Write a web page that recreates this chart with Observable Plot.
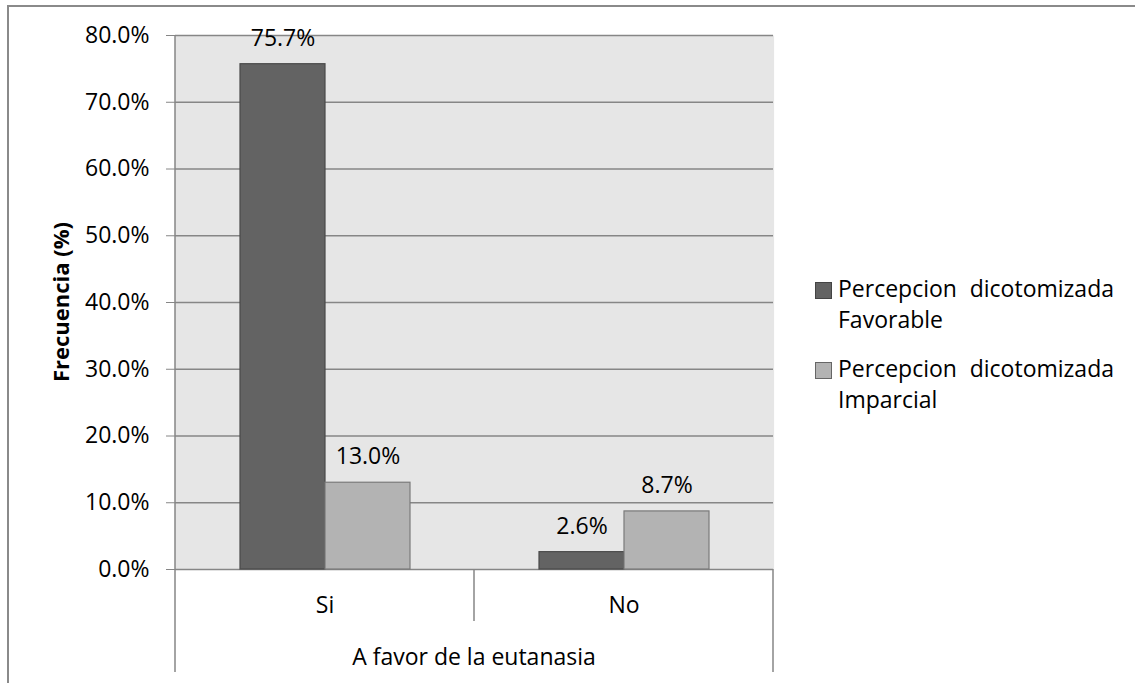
<!DOCTYPE html>
<html><head><meta charset="utf-8">
<script src="https://cdn.jsdelivr.net/npm/d3@7"></script>
<script src="https://cdn.jsdelivr.net/npm/@observablehq/plot@0.6"></script>
<style>
body{margin:0;background:#fff;font-family:"Open Sans",sans-serif;}
#wrap{position:relative;width:1135px;height:683px;overflow:hidden;}
#chart{position:absolute;left:0;top:0;}
#border{position:absolute;left:7px;top:5px;width:1200px;height:800px;border:2px solid #8a8a8a;box-sizing:border-box;pointer-events:none;}
.leg{position:absolute;left:838px;width:276px;font-size:23px;line-height:31px;color:#000;}
.leg .l1{display:flex;justify-content:space-between;}
.sw{position:absolute;left:815px;width:17px;height:17px;box-sizing:border-box;border:1px solid;}
</style></head>
<body><div id="wrap"><div id="chart"></div><div id="border"></div><div id="legend"></div></div>
<script>
const categories = ["Si", "No"];
const seriesNames = ["Percepcion dicotomizada Favorable", "Percepcion dicotomizada Imparcial"];
const favorable = [75.7, 2.6];
const imparcial = [13.0, 8.7];
const yTicks = [0, 10, 20, 30, 40, 50, 60, 70, 80];
const xTitle = "A favor de la eutanasia";
const yTitle = "Frecuencia (%)";
const fills = ["#636363", "#b3b3b3"];
const strokes = ["#4a4a4a", "#7a7a7a"];

const data = categories.flatMap((c, i) => [
  {cat: c, series: seriesNames[0], value: favorable[i]},
  {cat: c, series: seriesNames[1], value: imparcial[i]}
]);
const fmt = v => v.toFixed(1) + "%";

const chart = Plot.plot({
  width: 1135, height: 683,
  marginTop: 35, marginLeft: 174, marginRight: 362, marginBottom: 114,
  style: {fontFamily: "'Open Sans',sans-serif", fontSize: "23px", color: "#000", background: "transparent", overflow: "visible"},
  fx: {domain: categories, padding: 0, axis: null},
  x: {domain: seriesNames, paddingInner: 0, paddingOuter: 0.744, axis: null},
  y: {domain: [0, 80], axis: null},
  marks: [
    Plot.frame({fill: "#e6e6e6", stroke: null, insetLeft: -0.6, insetRight: -0.6}),
    Plot.ruleY(yTicks, {stroke: "#868686", strokeWidth: 1.3}),
    ...seriesNames.map((s, k) => Plot.barY(data.filter(d => d.series === s), {
      fx: "cat", x: "series", y: "value", fill: fills[k], stroke: strokes[k], strokeWidth: 1.2
    })),
    Plot.text(data, {fx: "cat", x: "series", y: "value", text: d => fmt(d.value), dy: -26, fontSize: 23, lineAnchor: "middle", fill: "#000"}),
    Plot.text(categories, {fx: d => d, text: d => d, frameAnchor: "bottom", dy: 36, fontSize: 23, lineAnchor: "middle", fill: "#000"}),
    Plot.axisY({ticks: yTicks, tickFormat: fmt, tickSize: 9, tickPadding: 17, fontSize: 23, stroke: "#868686", fill: "#000", label: null})
  ]
});
document.getElementById("chart").appendChild(chart);

// category dividers, axis line and titles from the scales
const svg = d3.select(chart);
const fx = chart.scale("fx"), y = chart.scale("y");
const y0 = y.apply(0), yTop = y.apply(80);
const left = fx.apply(categories[0]);
const right = fx.apply(categories[categories.length - 1]) + fx.bandwidth;
const g = svg.append("g").attr("stroke", "#868686").attr("stroke-width", 1.5);
g.append("line").attr("x1", left).attr("x2", left).attr("y1", yTop).attr("y2", y0 + 103);
g.append("line").attr("x1", right).attr("x2", right).attr("y1", y0).attr("y2", y0 + 103);
categories.slice(1).forEach(c => {
  const xx = fx.apply(c);
  g.append("line").attr("x1", xx).attr("x2", xx).attr("y1", y0).attr("y2", y0 + 52);
});
svg.append("text").attr("x", (left + right) / 2).attr("y", y0 + 88).attr("dy", "0.35em")
  .attr("text-anchor", "middle").attr("font-size", 23).attr("fill", "#000").text(xTitle);
svg.append("text").attr("transform", `translate(61,${(y0 + yTop) / 2}) rotate(-90)`).attr("dy", "0.35em")
  .attr("text-anchor", "middle").attr("font-size", 22).attr("font-weight", "bold").attr("fill", "#000").text(yTitle);

// legend
const legend = document.getElementById("legend");
const tops = [273, 353];
seriesNames.forEach((s, k) => {
  const words = s.split(" ");
  const sw = document.createElement("div");
  sw.className = "sw";
  sw.style.top = (tops[k] + 9) + "px";
  sw.style.background = fills[k];
  sw.style.borderColor = k === 0 ? "#444" : "#666";
  legend.appendChild(sw);
  const item = document.createElement("div");
  item.className = "leg";
  item.style.top = tops[k] + "px";
  item.innerHTML = `<div class="l1"><span>${words[0]}</span><span>${words[1]}</span></div><div>${words.slice(2).join(" ")}</div>`;
  legend.appendChild(item);
});
</script>
</body></html>
